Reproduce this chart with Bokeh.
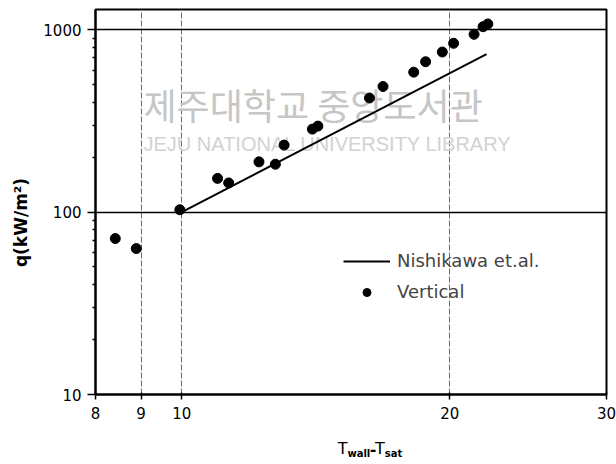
import numpy as np
from bokeh.plotting import figure
from bokeh.layouts import row, column
from bokeh.models import (FixedTicker, PrintfTickFormatter, Legend, LegendItem, Label, Range1d)
from bokeh.core.properties import value
from bokeh.embed import file_html
from bokeh.resources import INLINE

# ---- data ----
vert_dt = [8.42, 8.89, 9.95, 10.97, 11.29, 12.21, 12.74, 13.03, 14.02, 14.22,
           16.25, 16.83, 18.22, 18.79, 19.62, 20.2, 21.3, 21.8, 22.07]
vert_q = [71.6, 63.1, 103, 153, 144.5, 188.5, 183, 233, 285, 296,
          422, 488, 585, 667, 754, 842, 943, 1038, 1075]
nish_dt = [10, 22]
nish_q = [100, 735]

x_ticks = [8, 9, 10, 20, 30]
y_ticks = [10, 100, 1000]
y_minor = [20, 30, 40, 50, 60, 70, 80, 90, 200, 300, 400, 500, 600, 700, 800, 900]
x_grid = [9, 10, 20]
y_grid = [100, 1000]

series_line = "Nishikawa et.al."
series_dots = "Vertical"
y_title = "q(kW/m²)"
x_title_parts = ["T", "wall", "-", "T", "sat"]
watermark_kr = "제주대학교 중앙도서관"
watermark_en = "JEJU NATIONAL UNIVERSITY  LIBRARY"

FONT = "DejaVu Sans"
LEFT_W = 40
XLAB_H = 36
TOTAL_W, TOTAL_H = 616, 464
MAIN_W = TOTAL_W - LEFT_W
MAIN_H = TOTAL_H - XLAB_H

p = figure(width=MAIN_W, height=MAIN_H, x_axis_type="log", y_axis_type="log",
           x_range=(8, 30), y_range=(10, 1290),
           output_backend="svg", toolbar_location=None,
           min_border_left=95 - LEFT_W, min_border_right=TOTAL_W - 606,
           min_border_top=9, min_border_bottom=MAIN_H - 394)
p.background_fill_color = "white"
p.border_fill_color = "white"
p.outline_line_color = "black"
p.outline_line_width = 2

for ax in (p.xaxis, p.yaxis):
    ax.axis_line_width = 2
    ax.axis_line_color = "black"
    ax.major_tick_line_color = "black"
    ax.major_tick_line_width = 1.5
    ax.minor_tick_line_color = "black"
    ax.major_label_text_font = FONT
    ax.major_label_text_font_size = "15px"
    ax.major_label_text_color = "black"
    ax.formatter = PrintfTickFormatter(format="%d")

p.xaxis.ticker = FixedTicker(ticks=x_ticks, minor_ticks=[])
p.xaxis.major_tick_out = 5
p.xaxis.major_tick_in = 2
p.xaxis.major_label_standoff = 7

p.yaxis.ticker = FixedTicker(ticks=y_ticks, minor_ticks=y_minor)
p.yaxis.major_tick_out = 8
p.yaxis.major_tick_in = 0
p.yaxis.minor_tick_out = 3
p.yaxis.minor_tick_in = 0
p.yaxis.minor_tick_line_width = 1.5
p.yaxis.major_label_standoff = 6

p.xgrid.ticker = FixedTicker(ticks=x_grid)
p.xgrid.grid_line_color = "#6e6e6e"
p.xgrid.grid_line_width = 1
p.xgrid.grid_line_dash = "6 2"
p.ygrid.ticker = FixedTicker(ticks=y_grid)
p.ygrid.grid_line_color = "black"
p.ygrid.grid_line_width = 1.5

# faint scanned watermark
p.add_layout(Label(x=48, y=291, x_units="screen", y_units="screen", text=watermark_kr,
                   text_font="Noto Sans CJK KR", text_font_size="36px", text_color="#c6c6c6",
                   text_baseline="middle", text_align="left", level="underlay"))
p.add_layout(Label(x=48, y=251, x_units="screen", y_units="screen", text=watermark_en,
                   text_font="Liberation Sans", text_font_size="20px", text_color="#d2d2d2",
                   text_baseline="middle", text_align="left", level="underlay"))

line_r = p.line(nish_dt, nish_q, line_color="black", line_width=2)
sc_r = p.scatter(vert_dt, vert_q, size=10, fill_color="black", line_color="black")

legend = Legend(items=[LegendItem(label=series_line, renderers=[line_r]),
                       LegendItem(label=series_dots, renderers=[sc_r])],
                location=(248, 92), padding=0, margin=0, spacing=10,
                glyph_width=47, glyph_height=20, label_height=20, label_standoff=7,
                label_text_font=FONT, label_text_font_size="18px",
                border_line_alpha=0, background_fill_alpha=0)
p.add_layout(legend)

def blank_fig(w, h):
    f = figure(width=w, height=h, x_range=Range1d(0, w), y_range=Range1d(0, h),
               output_backend="svg", toolbar_location=None,
               x_axis_location=None, y_axis_location=None,
               min_border=0, min_border_left=0, min_border_right=0,
               min_border_top=0, min_border_bottom=0)
    f.grid.visible = False
    f.outline_line_color = None
    f.background_fill_color = "white"
    f.border_fill_color = "white"
    return f

# y-axis title panel
fy = blank_fig(LEFT_W, TOTAL_H)
fy.text(x=[20], y=[TOTAL_H - 222], text=[y_title], angle=np.pi / 2,
        text_font=value(FONT), text_font_size="17px", text_font_style="bold",
        text_align="center", text_baseline="middle", text_color="black")

# x-axis title panel (with subscripts)
fx = blank_fig(MAIN_W, XLAB_H)
px = [313, 324, 349, 355, 366]
py = [448, 453, 448, 448, 453]
sizes = ["16px", "10px", "16px", "16px", "10px"]
styles = ["normal", "bold", "bold", "normal", "bold"]
for t, xx, yy, fs, st in zip(x_title_parts, px, py, sizes, styles):
    fx.text(x=[xx - LEFT_W], y=[TOTAL_H - yy], text=[t],
            text_font=value(FONT), text_font_size=fs, text_font_style=st,
            text_align="left", text_baseline="alphabetic", text_color="black")

layout = row(fy, column(p, fx, spacing=0), spacing=0)
open("out.html", "w").write(file_html(layout, INLINE))
